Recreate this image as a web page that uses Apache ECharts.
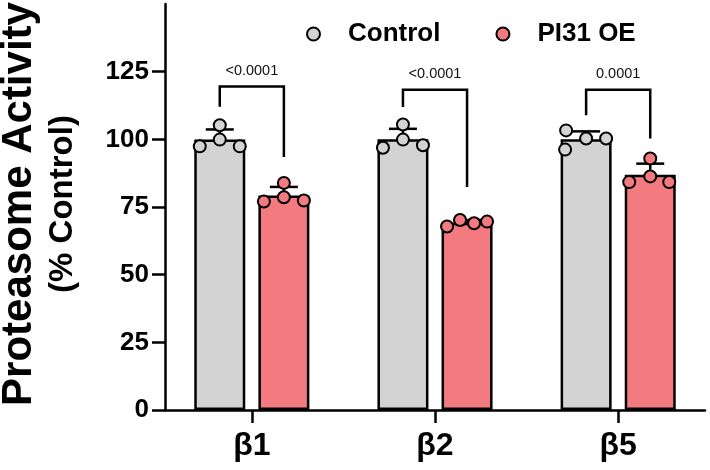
<!DOCTYPE html>
<html><head><meta charset="utf-8">
<script src="https://cdn.jsdelivr.net/npm/echarts@6/dist/echarts.min.js"></script>
<style>html,body{margin:0;padding:0;background:#fff}#c{width:710px;height:470px}</style>
</head><body><div id="c"></div>
<script>
// ---- data ----
const categories = ['β1', 'β2', 'β5'];
const seriesNames = ['Control', 'PI31 OE'];
const controlValues = [
  [105.2, 99.9, 97.4, 97.4],
  [105.5, 99.9, 96.9, 97.8],
  [103.3, 100.3, 100.3, 96.2]
];
const oeValues = [
  [83.9, 78.6, 77.0, 77.4],
  [67.8, 70.2, 69.0, 69.6],
  [92.9, 86.3, 84.2, 84.2]
];
const pLabels = ['<0.0001', '<0.0001', '0.0001'];
const bracketTop = [119.5, 118.3, 118.3];
const bracketLeftEnd = [112, 111.9, 108.9];
const bracketRightEnd = [93.5, 82.4, 100.3];
const yTicks = [0, 25, 50, 75, 100, 125];

// ---- layout / style ----
const controlJitter = [[0, 0, -20, 20], [0, 0, -20, 20], [-20, 0, 20, -21]];
const oeJitter = [[0, 0, -20, 20], [-20, -7, 7, 20], [0, 0, -21, 19]];
const barShift = 0.175;
const grayFill = '#d3d3d3';
const redFill = '#f37b7f';
const FONT = '"Liberation Sans", Arial, Helvetica, sans-serif';

function mean(a) { return a.reduce((s, v) => s + v, 0) / a.length; }
function sd(a) { const m = mean(a); return Math.sqrt(a.reduce((s, v) => s + (v - m) * (v - m), 0) / (a.length - 1)); }

function barData(vals, shift) { return vals.map((g, i) => [i + shift, mean(g)]); }
function errData(vals, shift) { return vals.map((g, i) => [i + shift, mean(g), sd(g)]); }
function pointData(vals, jit, shift) {
  const out = [];
  vals.forEach((g, i) => g.forEach((v, k) => out.push({ value: [i + shift, v], symbolOffset: [jit[i][k], 0] })));
  return out;
}

function errRender(params, api) {
  const x = api.value(0), m = api.value(1), s = api.value(2);
  const b = api.coord([x, m]);
  const t = api.coord([x, m + s]);
  const st = { stroke: '#000', lineWidth: 2.5 };
  return { type: 'group', children: [
    { type: 'line', shape: { x1: b[0], y1: b[1], x2: t[0], y2: t[1] }, style: st },
    { type: 'line', shape: { x1: t[0] - 14, y1: t[1], x2: t[0] + 14, y2: t[1] }, style: st }
  ] };
}

function bracketRender(params, api) {
  const i = api.value(0);
  const p1 = api.coord([i - barShift, api.value(2)]);
  const p2 = api.coord([i - barShift, api.value(1)]);
  const p3 = api.coord([i + barShift, api.value(1)]);
  const p4 = api.coord([i + barShift, api.value(3)]);
  return { type: 'group', children: [
    { type: 'polyline', shape: { points: [p1, p2, p3, p4] }, style: { stroke: '#000', lineWidth: 2.5, fill: null } },
    { type: 'text', x: (p2[0] + p3[0]) / 2, y: p2[1] - 16,
      style: { text: pLabels[params.dataIndex], fill: '#111', fontSize: 14.5, fontFamily: FONT, align: 'center', verticalAlign: 'middle' } }
  ] };
}

const chart = echarts.init(document.getElementById('c'), null, { renderer: 'canvas' });
chart.setOption({
  animation: false,
  textStyle: { fontFamily: FONT },
  grid: { left: 165, right: 5, top: 4, bottom: 60, containLabel: false, outerBoundsMode: 'none' },
  legend: {
    left: 306, top: 21, padding: 0, itemWidth: 13, itemHeight: 13, itemGap: 55, selectedMode: false,
    data: [
      { name: seriesNames[0], icon: 'circle', itemStyle: { color: grayFill, borderColor: '#000', borderWidth: 2 } },
      { name: seriesNames[1], icon: 'circle', itemStyle: { color: redFill, borderColor: '#000', borderWidth: 2 } }
    ],
    textStyle: { fontSize: 26, fontWeight: 'bold', color: '#000', fontFamily: FONT, padding: [0, 0, 0, 23] }
  },
  xAxis: {
    type: 'value', min: -0.474, max: 2.474,
    axisLine: { show: true, onZero: false, lineStyle: { color: '#000', width: 2.5 } },
    splitLine: { show: false },
    axisTick: { show: true, customValues: [0, 1, 2], length: 13, lineStyle: { color: '#000', width: 2.5 } },
    axisLabel: { customValues: [0, 1, 2], formatter: v => categories[Math.round(v)], fontSize: 32, fontWeight: 'bold', color: '#000', margin: 20, fontFamily: FONT }
  },
  yAxis: {
    type: 'value', min: 0, max: 150, interval: 25,
    axisLine: { show: true, onZero: false, lineStyle: { color: '#000', width: 2.5 } },
    splitLine: { show: false },
    axisTick: { show: true, customValues: yTicks, length: 13, lineStyle: { color: '#000', width: 2.5 } },
    axisLabel: { customValues: yTicks, fontSize: 26, fontWeight: 'bold', color: '#000', margin: 16, fontFamily: FONT, padding: [5, 0, 0, 0] },
    name: '{a|Proteasome Activity}\n{b|(% Control)}',
    nameLocation: 'middle', nameRotate: 90, nameGap: 82,
    nameTextStyle: {
      padding: [0, 0, 0, 6],
      rich: {
        a: { fontSize: 42, fontWeight: 'bold', color: '#000', lineHeight: 48, fontFamily: FONT },
        b: { fontSize: 33, fontWeight: 'bold', color: '#000', lineHeight: 40, fontFamily: FONT }
      }
    }
  },
  series: [
    { name: seriesNames[0], type: 'bar', data: barData(controlValues, -barShift), barWidth: 51, barGap: '-100%', z: 2,
      itemStyle: { color: grayFill, borderColor: '#000', borderWidth: 2.5 } },
    { name: seriesNames[1], type: 'bar', data: barData(oeValues, barShift), barWidth: 51, barGap: '-100%', z: 2,
      itemStyle: { color: redFill, borderColor: '#000', borderWidth: 2.5 } },
    { type: 'custom', renderItem: errRender, data: errData(controlValues, -barShift), z: 3, silent: true },
    { type: 'custom', renderItem: errRender, data: errData(oeValues, barShift), z: 3, silent: true },
    { name: seriesNames[0], type: 'scatter', data: pointData(controlValues, controlJitter, -barShift), symbolSize: 12, z: 4,
      itemStyle: { color: grayFill, borderColor: '#000', borderWidth: 2, opacity: 1 } },
    { name: seriesNames[1], type: 'scatter', data: pointData(oeValues, oeJitter, barShift), symbolSize: 12, z: 4,
      itemStyle: { color: redFill, borderColor: '#000', borderWidth: 2, opacity: 1 } },
    { type: 'custom', renderItem: bracketRender, silent: true, z: 3,
      data: categories.map((c, i) => [i, bracketTop[i], bracketLeftEnd[i], bracketRightEnd[i]]) }
  ]
});
</script></body></html>
